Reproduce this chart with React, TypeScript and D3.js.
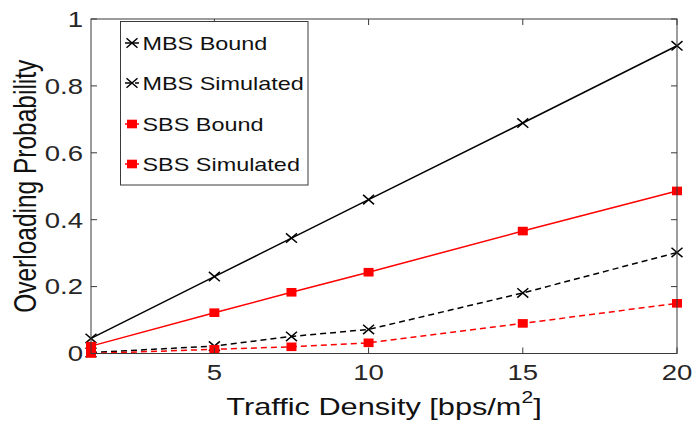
import React from "react";
import * as d3 from "d3";

// Traffic density samples [bps/m^2]
const density = [1, 5, 7.5, 10, 15, 20];

// Overloading probability per series
const mbsBound = [0.045, 0.23, 0.345, 0.46, 0.689, 0.92];
const mbsSimulated = [0.003, 0.022, 0.051, 0.072, 0.181, 0.302];
const sbsBound = [0.022, 0.122, 0.183, 0.243, 0.366, 0.486];
const sbsSimulated = [0.0, 0.0125, 0.02, 0.032, 0.09, 0.15];

const xTicks = [5, 10, 15, 20];
const yTicks = [0, 0.2, 0.4, 0.6, 0.8, 1];

const seriesNames = ["MBS Bound", "MBS Simulated", "SBS Bound", "SBS Simulated"];

const W = 695;
const H = 425;
const M = { left: 91, right: 677, top: 19, bottom: 353.5 };
const SX = 1.28; // horizontal glyph stretch
const FONT = "'Liberation Sans', Arial, Helvetica, sans-serif";
const AXIS = "#3a3a3a";

type Marker = "x" | "square";

interface Series {
  name: string;
  values: number[];
  color: string;
  dashed: boolean;
  marker: Marker;
}

const series: Series[] = [
  { name: seriesNames[0], values: mbsBound, color: "#000000", dashed: false, marker: "x" },
  { name: seriesNames[1], values: mbsSimulated, color: "#000000", dashed: true, marker: "x" },
  { name: seriesNames[2], values: sbsBound, color: "#ff0000", dashed: false, marker: "square" },
  { name: seriesNames[3], values: sbsSimulated, color: "#ff0000", dashed: true, marker: "square" },
];

function MarkerGlyph({ kind, x, y, color }: { kind: Marker; x: number; y: number; color: string }) {
  if (kind === "x") {
    const dx = 5.5;
    const dy = 4.7;
    return (
      <path
        d={`M${x - dx},${y - dy}L${x + dx},${y + dy}M${x - dx},${y + dy}L${x + dx},${y - dy}`}
        stroke={color}
        strokeWidth={1.5}
        fill="none"
      />
    );
  }
  return <rect x={x - 5} y={y - 4.3} width={10} height={8.6} fill={color} />;
}

function SText({
  x,
  y,
  size,
  anchor = "start",
  children,
  fill = "#111",
}: {
  x: number;
  y: number;
  size: number;
  anchor?: "start" | "middle" | "end";
  children: React.ReactNode;
  fill?: string;
}) {
  return (
    <text
      transform={`translate(${x},${y}) scale(${SX},1)`}
      fontSize={size}
      fontFamily={FONT}
      textAnchor={anchor}
      fill={fill}
    >
      {children}
    </text>
  );
}

export default function App() {
  const x = d3.scaleLinear().domain([1, 20]).range([M.left, M.right]);
  const y = d3.scaleLinear().domain([0, 1]).range([M.bottom, M.top]);

  const line = d3
    .line<number>()
    .x((_, i) => x(density[i]))
    .y((v) => y(v));

  const tickLen = 6;

  const legend = { x0: 120.5, y0: 21.5, x1: 308, y1: 185 };
  const legendRows = [43, 83, 124, 164];

  return (
    <svg
      width={W}
      height={H}
      style={{ position: "absolute", left: 0, top: 0, background: "#fff" }}
    >
      <rect x={0} y={0} width={W} height={H} fill="#fff" />

      {/* data lines */}
      {series.map((s) => (
        <g key={s.name}>
          <path
            d={line(s.values) ?? ""}
            fill="none"
            stroke={s.color}
            strokeWidth={1.5}
            strokeDasharray={s.dashed ? "6,4" : undefined}
          />
          {s.values.map((v, i) => (
            <MarkerGlyph key={i} kind={s.marker} x={x(density[i])} y={y(v)} color={s.color} />
          ))}
        </g>
      ))}

      {/* axes box */}
      <rect
        x={M.left}
        y={M.top}
        width={M.right - M.left}
        height={M.bottom - M.top}
        fill="none"
        stroke={AXIS}
        strokeWidth={1}
      />

      {/* x ticks */}
      {xTicks.map((t) => (
        <g key={`xt${t}`}>
          <line x1={x(t)} x2={x(t)} y1={M.bottom} y2={M.bottom - tickLen} stroke={AXIS} />
          <line x1={x(t)} x2={x(t)} y1={M.top} y2={M.top + tickLen} stroke={AXIS} />
          <SText x={x(t)} y={380} size={21.5} anchor="middle" fill="#262626">
            {t}
          </SText>
        </g>
      ))}

      {/* y ticks */}
      {yTicks.map((t) => (
        <g key={`yt${t}`}>
          <line x1={M.left} x2={M.left + tickLen} y1={y(t)} y2={y(t)} stroke={AXIS} />
          <line x1={M.right} x2={M.right - tickLen} y1={y(t)} y2={y(t)} stroke={AXIS} />
          <SText x={83} y={y(t) + 7.8} size={21.5} anchor="end" fill="#262626">
            {d3.format("~g")(t)}
          </SText>
        </g>
      ))}

      {/* axis titles */}
      <text
        transform={`translate(${36},${(M.top + M.bottom) / 2}) scale(${SX},1) rotate(-90)`}
        fontSize={24.5}
        fontFamily={FONT}
        textAnchor="middle"
        fill="#111"
      >
        Overloading Probability
      </text>
      <text
        transform={`translate(${(M.left + M.right) / 2},${414.5}) scale(${SX},1)`}
        fontSize={24}
        fontFamily={FONT}
        textAnchor="middle"
        fill="#111"
      >
        Traffic Density [bps/m
        <tspan fontSize={16.5} dy={-11.5}>
          2
        </tspan>
        <tspan dy={11.5}>]</tspan>
      </text>

      {/* legend */}
      <rect
        x={legend.x0}
        y={legend.y0}
        width={legend.x1 - legend.x0}
        height={legend.y1 - legend.y0}
        fill="#fff"
        stroke={AXIS}
        strokeWidth={1}
      />
      {series.map((s, i) => {
        const ly = legendRows[i];
        return (
          <g key={`lg${s.name}`}>
            <line
              x1={125}
              x2={139}
              y1={ly}
              y2={ly}
              stroke={s.color}
              strokeWidth={1.5}
              strokeDasharray={s.dashed ? "6,4" : undefined}
            />
            <MarkerGlyph kind={s.marker} x={132} y={ly} color={s.color} />
            <SText x={142.5} y={ly + 6.5} size={18.3} fill="#111">
              {s.name}
            </SText>
          </g>
        );
      })}
    </svg>
  );
}
